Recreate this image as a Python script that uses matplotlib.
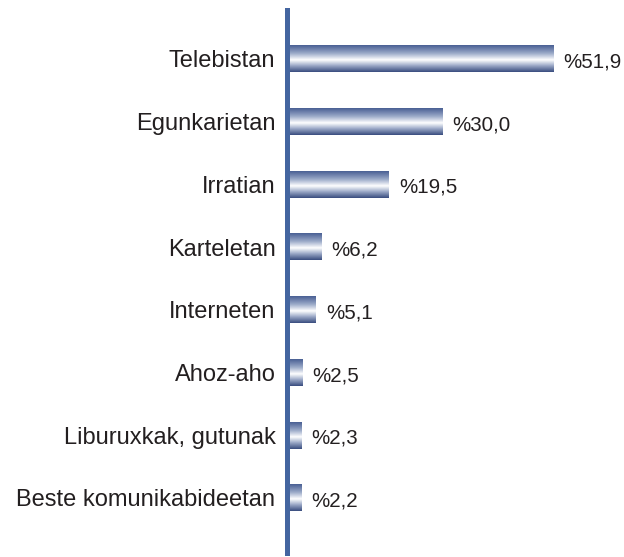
import matplotlib
matplotlib.use("Agg")
import matplotlib.pyplot as plt
import numpy as np
from matplotlib.colors import LinearSegmentedColormap

categories = ["Telebistan", "Egunkarietan", "Irratian", "Karteletan",
              "Interneten", "Ahoz-aho", "Liburuxkak, gutunak",
              "Beste komunikabideetan"]
values = [51.9, 30.0, 19.5, 6.2, 5.1, 2.5, 2.3, 2.2]
value_labels = ["%51,9", "%30,0", "%19,5", "%6,2", "%5,1", "%2,5", "%2,3", "%2,2"]

plt.rcParams["font.family"] = ["Liberation Sans", "DejaVu Sans"]

W, H = 624, 557
fig = plt.figure(figsize=(W / 100, H / 100), dpi=100)
ax_left = 286.5 / W
ax = fig.add_axes([ax_left, 4 / H, 1 - ax_left, 543 / H])

px_per_unit = 5.07
x0 = -3.5 / px_per_unit
xlim = (x0, x0 + (W - 286.5) / px_per_unit)
ylim = (len(categories) - 1 + 0.88, -0.78)

grad = LinearSegmentedColormap.from_list(
    "bar", [(0.0, "#4A6094"), (0.3, "#9AA9C8"), (0.55, "#FFFFFF"),
            (0.75, "#A3B0CC"), (1.0, "#3A4E80")])
g = np.linspace(0, 1, 64).reshape(-1, 1)

bh = 0.43
for i, (v, lab) in enumerate(zip(values, value_labels)):
    ax.imshow(g, cmap=grad, aspect="auto", interpolation="bilinear",
              extent=(0, v, i + bh / 2, i - bh / 2), zorder=2)
    ax.text(v + 10 / px_per_unit, i + 0.05, lab, ha="left", va="center",
            fontsize=14.8, color="#231F20")

ax.set_xlim(*xlim)
ax.set_ylim(*ylim)

ax.set_yticks(range(len(categories)))
ax.set_yticklabels(categories, fontsize=17, color="#231F20")
ax.tick_params(axis="y", length=0, pad=8)
ax.set_xticks([])
for s in ["top", "right", "bottom"]:
    ax.spines[s].set_visible(False)
ax.spines["left"].set_color("#4465A0")
ax.spines["left"].set_linewidth(3.6)

fig.savefig("out.png", dpi=100)
